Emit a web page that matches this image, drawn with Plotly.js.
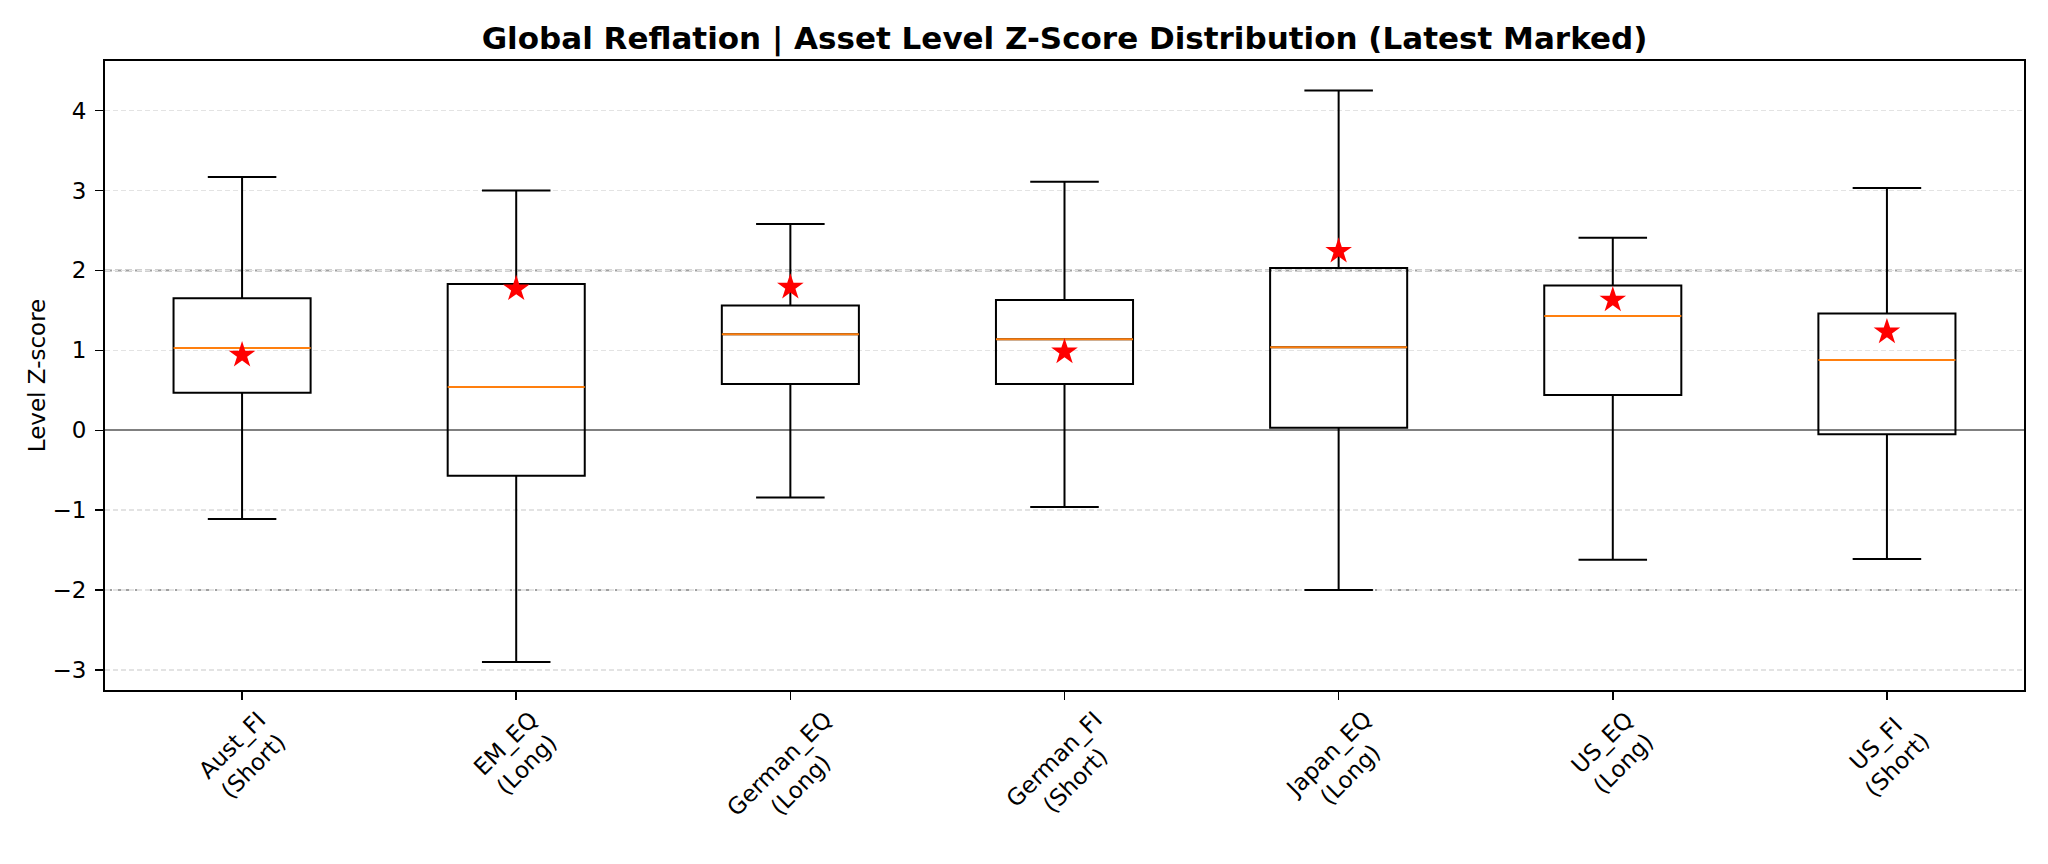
<!DOCTYPE html>
<html>
<head>
<meta charset="utf-8">
<script src="https://cdn.plot.ly/plotly-3.0.1.min.js"></script>
<style>
  html, body { margin: 0; padding: 0; background: #ffffff; }
  #chart { width: 2048px; height: 864px; }
</style>
</head>
<body>
<div id="chart"></div>
<script>
// Asset names and trade direction
const assets = ["Aust_FI", "EM_EQ", "German_EQ", "German_FI", "Japan_EQ", "US_EQ", "US_FI"];
const sides = ["Short", "Long", "Long", "Short", "Long", "Long", "Short"];

// Box-plot summary of each asset's level z-score history
const lowerWhisker = [-1.11, -2.90, -0.84, -0.96, -2.00, -1.62, -1.61];
const q1 = [0.47, -0.57, 0.58, 0.58, 0.03, 0.44, -0.05];
const median = [1.03, 0.54, 1.20, 1.14, 1.04, 1.43, 0.88];
const q3 = [1.65, 1.83, 1.56, 1.63, 2.03, 1.81, 1.46];
const upperWhisker = [3.17, 3.00, 2.58, 3.11, 4.25, 2.41, 3.03];

// Most recent z-score per asset
const latest = [0.94, 1.77, 1.79, 0.98, 2.24, 1.63, 1.23];

// Y tick values and their labels (typographic minus)
const yTicks = [-3, -2, -1, 0, 1, 2, 3, 4];
const yTickText = yTicks.map(v => (v < 0 ? "\u2212" + Math.abs(v) : String(v)));

const positions = assets.map((_, i) => i + 1);
const boxWidth = 0.5;
const FONT = "DejaVu Sans";
const LABEL_SIZE = 23;

// Orange median segments spanning each box
const medX = [], medY = [];
positions.forEach((p, i) => {
  medX.push(p - boxWidth / 2, p + boxWidth / 2, null);
  medY.push(median[i], median[i], null);
});

const traces = [
  {
    type: "box",
    x: positions,
    q1: q1,
    median: median,
    q3: q3,
    lowerfence: lowerWhisker,
    upperfence: upperWhisker,
    width: boxWidth,
    whiskerwidth: 0.5,
    boxpoints: false,
    fillcolor: "rgba(255,255,255,0)",
    line: { color: "#000000", width: 2 },
    showlegend: false,
    hoverinfo: "y"
  },
  {
    type: "scatter",
    mode: "lines",
    x: medX,
    y: medY,
    line: { color: "#ff7f0e", width: 2 },
    showlegend: false,
    hoverinfo: "skip"
  },
  {
    type: "scatter",
    mode: "markers",
    x: positions,
    y: latest,
    marker: { symbol: "star", size: 20, color: "#ff0000", line: { width: 0 } },
    showlegend: false,
    hoverinfo: "y"
  }
];

// Rotated two-line category labels centred under each tick
const labelAnnotations = positions.map((p, i) => ({
  x: p,
  xref: "x",
  y: 0,
  yref: "paper",
  yshift: -15,
  xanchor: "center",
  yanchor: "top",
  textangle: -45,
  showarrow: false,
  align: "center",
  borderpad: 0,
  text: assets[i] + "<br>(" + sides[i] + ")",
  font: { family: FONT, size: LABEL_SIZE, color: "#000000" }
}));

const layout = {
  width: 2048,
  height: 864,
  margin: { l: 105, r: 24, t: 61, b: 174 },
  paper_bgcolor: "#ffffff",
  plot_bgcolor: "#ffffff",
  font: { family: FONT, size: LABEL_SIZE, color: "#000000" },
  title: {
    text: "<b>Global Reflation | Asset Level Z-Score Distribution (Latest Marked)</b>",
    font: { family: FONT, size: 31, color: "#000000" },
    x: 0.5,
    xref: "paper",
    xanchor: "center",
    y: 1 - 38 / 864,
    yref: "container",
    yanchor: "middle"
  },
  xaxis: {
    range: [0.5, 7.5],
    tickvals: positions,
    showticklabels: false,
    ticks: "outside",
    ticklen: 8,
    tickwidth: 1.5,
    tickcolor: "#000000",
    showline: true,
    mirror: true,
    linecolor: "#000000",
    linewidth: 2,
    showgrid: false,
    zeroline: false,
    fixedrange: true
  },
  yaxis: {
    range: [-3.25, 4.62],
    tickvals: yTicks,
    ticktext: yTickText,
    ticks: "outside",
    ticklen: 8,
    tickwidth: 1.5,
    tickcolor: "#000000",
    ticklabelstandoff: 4,
    tickfont: { family: FONT, size: LABEL_SIZE, color: "#000000" },
    showline: true,
    mirror: true,
    linecolor: "#000000",
    linewidth: 2,
    showgrid: true,
    gridcolor: "#e3e3e3",
    gridwidth: 1.5,
    griddash: "5px,3px",
    zeroline: true,
    zerolinecolor: "#808080",
    zerolinewidth: 2,
    title: {
      text: "Level Z-score",
      font: { family: FONT, size: LABEL_SIZE, color: "#000000" },
      standoff: 0
    },
    fixedrange: true
  },
  shapes: [2, -2].map(v => ({
    type: "line",
    xref: "paper",
    x0: 0,
    x1: 1,
    yref: "y",
    y0: v,
    y1: v,
    layer: "below",
    line: { color: "#a0a0a0", width: 2, dash: "7px,3px" }
  })),
  annotations: labelAnnotations
};

Plotly.newPlot("chart", traces, layout, { displayModeBar: false, staticPlot: true });
</script>
</body>
</html>
